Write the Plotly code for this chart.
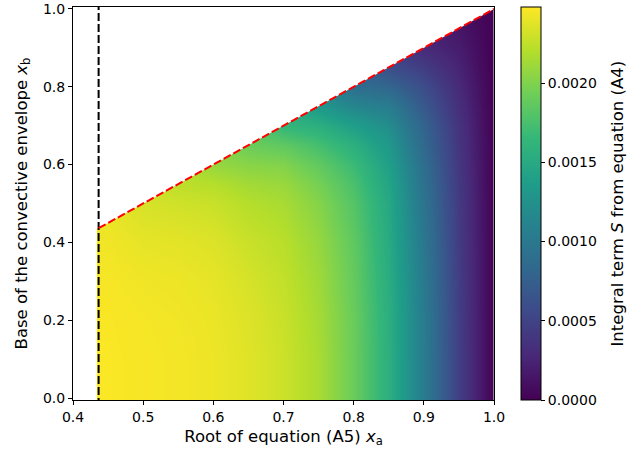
import numpy as np
import plotly.graph_objects as go

# ---- data ----
# grid of x_a (columns) and x_b (rows)
X_A = [0.45, 0.50, 0.55, 0.60, 0.65, 0.70, 0.75, 0.80, 0.85, 0.90, 0.95, 1.00]
X_B = [0.0, 0.1, 0.2, 0.3, 0.4, 0.5, 0.55, 0.6, 0.65, 0.7, 0.75, 0.8, 0.85, 0.9, 0.95, 1.0]
N = None
# integral term S (units of 1e-3); one list per x_a column, rows follow X_B
S_045 = [2.468, 2.468, 2.465, 2.455, 2.430, 2.406, N, N, N, N, N, N, N, N, N, N]
S_050 = [2.455, 2.455, 2.450, 2.430, 2.393, 2.331, 2.306, N, N, N, N, N, N, N, N, N]
S_055 = [2.443, 2.443, 2.435, 2.418, 2.381, 2.306, 2.232, 2.207, N, N, N, N, N, N, N, N]
S_060 = [2.418, 2.418, 2.411, 2.393, 2.356, 2.282, 2.207, 2.083, 2.034, N, N, N, N, N, N, N]
S_065 = [2.368, 2.368, 2.356, 2.331, 2.282, 2.207, 2.133, 2.034, 1.910, 1.860, N, N, N, N, N, N]
S_070 = [2.294, 2.294, 2.282, 2.257, 2.220, 2.158, 2.096, 2.009, 1.860, 1.637, 1.538, N, N, N, N, N]
S_075 = [2.158, 2.158, 2.145, 2.120, 2.083, 2.021, 1.959, 1.872, 1.736, 1.562, 1.314, 1.215, N, N, N, N]
S_080 = [1.910, 1.910, 1.905, 1.885, 1.860, 1.810, 1.761, 1.686, 1.562, 1.389, 1.141, 0.893, 0.794, N, N, N]
S_085 = [1.562, 1.562, 1.557, 1.538, 1.513, 1.488, 1.451, 1.401, 1.327, 1.215, 1.042, 0.818, 0.595, 0.496, N, N]
S_090 = [1.042, 1.042, 1.037, 1.017, 0.992, 0.955, 0.930, 0.893, 0.843, 0.794, 0.694, 0.595, 0.446, 0.298, 0.248, N]
S_095 = [0.471, 0.471, 0.466, 0.459, 0.446, 0.434, 0.422, 0.409, 0.392, 0.372, 0.335, 0.298, 0.248, 0.198, 0.149, 0.124]
S_100 = [0.000, 0.000, 0.000, 0.000, 0.000, 0.000, 0.000, 0.000, 0.000, 0.000, 0.000, 0.000, 0.000, 0.000, 0.000, 0.000]
S_UNIT = 1e-3

X_A_MIN = 0.4365        # smallest root x_a (vertical dashed line)
HEAT_LEFT = 0.434       # left edge of the computed region
BOUNDARY_X = [X_A_MIN, 1.0]   # x_b = x_a upper boundary
BOUNDARY_Y = [X_A_MIN, 1.0]

X_RANGE = [0.4, 1.0]
Y_RANGE = [-0.005, 1.005]
X_TICKS = [0.4, 0.5, 0.6, 0.7, 0.8, 0.9, 1.0]
Y_TICKS = [0.0, 0.2, 0.4, 0.6, 0.8, 1.0]
CB_TICKS = [0.0, 0.0005, 0.0010, 0.0015, 0.0020]
S_MAX = 0.00248

cols = [S_045, S_050, S_055, S_060, S_065, S_070, S_075, S_080, S_085,
        S_090, S_095, S_100]
z = np.array(cols, dtype=float).T * S_UNIT

FONT = "DejaVu Sans"

fig = go.Figure()
fig.add_trace(go.Heatmap(
    x=X_A, y=X_B, z=z, zsmooth="best", colorscale="Viridis",
    zmin=0, zmax=S_MAX, hoverinfo="skip",
    colorbar=dict(
        thickness=20, len=1, lenmode="fraction", y=0.5, yanchor="middle",
        x=1.064, xanchor="left", xpad=0, ypad=0,
        outlinewidth=1, outlinecolor="black",
        ticks="outside", ticklen=4, tickwidth=1, tickcolor="black",
        tickvals=CB_TICKS, tickformat=".4f",
        tickfont=dict(size=14, color="black", family=FONT),
    ),
))

# white mask outside the valid domain
pad = 0.1
mask_x = [X_RANGE[0] - pad, HEAT_LEFT, HEAT_LEFT, BOUNDARY_X[0], BOUNDARY_X[1],
          X_RANGE[1] + pad, X_RANGE[1] + pad, X_RANGE[0] - pad]
mask_y = [Y_RANGE[0] - pad, Y_RANGE[0] - pad, BOUNDARY_Y[0], BOUNDARY_Y[0], BOUNDARY_Y[1],
          BOUNDARY_Y[1] + pad, Y_RANGE[1] + pad, Y_RANGE[1] + pad]
fig.add_trace(go.Scatter(x=mask_x, y=mask_y, fill="toself", fillcolor="white",
                         mode="lines", line=dict(width=0, color="white"),
                         hoverinfo="skip", showlegend=False))

fig.add_trace(go.Scatter(x=[X_A_MIN, X_A_MIN], y=[Y_RANGE[0] - pad, Y_RANGE[1] + pad],
                         mode="lines", line=dict(color="black", width=2, dash="8px,3px"),
                         hoverinfo="skip", showlegend=False))
fig.add_trace(go.Scatter(x=BOUNDARY_X, y=BOUNDARY_Y, mode="lines",
                         line=dict(color="red", width=2, dash="8px,3px"),
                         hoverinfo="skip", showlegend=False))

axis_common = dict(
    showline=True, linecolor="black", linewidth=1, mirror=True,
    showgrid=False, zeroline=False, ticks="outside", ticklen=4, tickwidth=1,
    tickcolor="black", tickfont=dict(size=14, color="black", family=FONT),
    layer="above traces", automargin=False,
)
fig.update_layout(
    width=644, height=455,
    margin=dict(l=73, r=150, t=7, b=55, autoexpand=False),
    paper_bgcolor="white", plot_bgcolor="white",
    font=dict(family=FONT, color="black"),
    showlegend=False,
    xaxis=dict(range=X_RANGE, tickvals=X_TICKS, tickformat=".1f",
               title=dict(text="Root of equation (A5) <i>x</i><sub>a</sub>",
                          font=dict(size=16.5, family=FONT), standoff=6),
               **axis_common),
    yaxis=dict(range=Y_RANGE, tickvals=Y_TICKS, tickformat=".1f",
               title=dict(text="Base of the convective envelope <i>x</i><sub>b</sub>",
                          font=dict(size=16.5, family=FONT), standoff=11),
               **axis_common),
    annotations=[dict(
        text="Integral term <i>S</i> from equation (A4)", textangle=-90,
        xref="paper", yref="paper", x=(617 - 73) / 421, y=0.5,
        xanchor="center", yanchor="middle", showarrow=False,
        font=dict(size=16.5, color="black", family=FONT),
    )],
)

fig.write_html("out.html")
